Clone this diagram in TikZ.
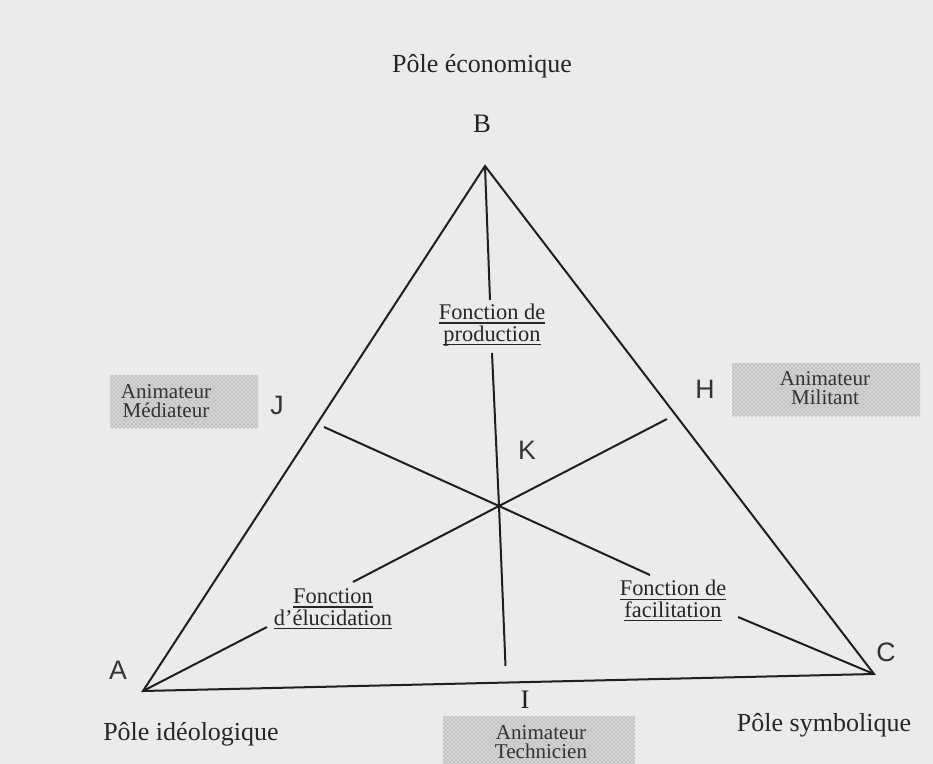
\documentclass[tikz,border=0pt]{standalone}
\usepackage{fontspec}
\setmainfont{Liberation Serif}
\newfontfamily\sansf{Liberation Sans}
\newsavebox\ulbox
\newcommand\myul[1]{\leavevmode\sbox\ulbox{#1}\smash{\rlap{\rule[-3pt]{\wd\ulbox}{1pt}}}\usebox\ulbox}
\usetikzlibrary{patterns}
\begin{document}
\begin{tikzpicture}[x=0.75pt,y=-0.75pt,
  edge/.style={line width=1.5pt, draw=black!88},
  pole/.style={font=\fontsize{19.5}{22}\selectfont, text=black!85, inner sep=0pt},
  letter/.style={font=\sansf\fontsize{20}{22}\selectfont, text=black!80, inner sep=0pt},
  sletter/.style={font=\fontsize{20}{22}\selectfont, text=black!88, inner sep=0pt},
  fonc/.style={font=\fontsize{16.8}{16.2}\selectfont, align=center, text=black!85, inner sep=0pt},
  anim/.style={font=\fontsize{15.8}{14.6}\selectfont, align=center, text=black!80, inner sep=0pt},
  screen/.style={fill=black!16},
  screendots/.style={pattern=crosshatch dots, pattern color=black!50}]
\fill[black!8] (0,0) rectangle (933,764);
\useasboundingbox (0,0) rectangle (933,764);

% vertices and centre
\coordinate (A) at (143,691);
\coordinate (B) at (485,166);
\coordinate (C) at (874,674);
\coordinate (O) at (499,506);
% feet of the three lines
\coordinate (Jf) at (324,427);
\coordinate (Hf) at (667,419);
\coordinate (If) at (505.5,666);
% gaps left for the labels
\coordinate (v1) at (490,300);
\coordinate (v2) at (492,353);
\coordinate (e1) at (267,627);
\coordinate (e2) at (353,582);
\coordinate (f1) at (650,575);
\coordinate (f2) at (738,617);

% screened boxes
\fill[screen] (110,375) rectangle (258,428);
\fill[screendots] (110,375) rectangle (258,428);
\fill[screen] (732,363) rectangle (920,416);
\fill[screendots] (732,363) rectangle (920,416);
\fill[screen] (443,716) rectangle (635,764);
\fill[screendots] (443,716) rectangle (635,764);

% triangle
\draw[edge, line join=miter] (A) -- (B) -- (C) -- cycle;
% inner lines
\draw[edge] (B) -- (v1);
\draw[edge] (v2) -- (O) -- (If);
\draw[edge] (A) -- (e1);
\draw[edge] (e2) -- (O) -- (Hf);
\draw[edge] (Jf) -- (O) -- (f1);
\draw[edge] (f2) -- (C);

% pole labels
\node[pole] (pe) at (482,66) {Pôle économique};
\node[pole] (pi) at (191,734) {Pôle idéologique};
\node[pole] (ps) at (824,725) {Pôle symbolique};

% letters
\node[sletter] (lB) at (482,124) {B};
\node[sletter] (lI) at (525,700) {I};
\node[letter] (lA) at (118,670) {A};
\node[letter] (lC) at (886,652) {C};
\node[letter] (lH) at (705,389) {H};
\node[letter] (lJ) at (277,405) {J};
\node[letter] (lK) at (527,450) {K};

% function labels
\node[fonc] (fp) at (492,325) {\myul{Fonction de}\\\myul{production}};
\node[fonc] (fe) at (333,607) {\myul{Fonction}\\\myul{d'élucidation}};
\node[fonc] (ff) at (673,599) {\myul{Fonction de}\\\myul{facilitation}};

% animator labels
\node[anim] (am) at (166,401) {Animateur\\Médiateur};
\node[anim] (ami) at (825,388) {Animateur\\Militant};
\node[anim] (at) at (541,742) {Animateur\\Technicien};
\end{tikzpicture}
\end{document}
